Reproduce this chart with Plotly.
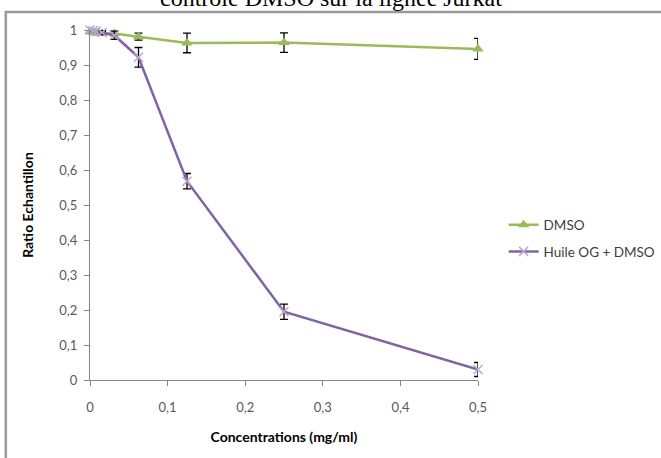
import plotly.graph_objects as go

concentrations = [0, 0.0039, 0.0078, 0.0156, 0.03125, 0.0625, 0.125, 0.25, 0.5]
dmso = [0.995, 0.993, 0.992, 0.991, 0.99, 0.981, 0.963, 0.964, 0.946]
dmso_err = [0.005, 0.005, 0.005, 0.005, 0.006, 0.01, 0.028, 0.028, 0.03]
huile = [1.0, 0.998, 0.996, 0.993, 0.985, 0.922, 0.568, 0.195, 0.03]
huile_err = [0.005, 0.005, 0.005, 0.006, 0.012, 0.028, 0.022, 0.022, 0.02]

title_text = "contrôle DMSO sur la lignée Jurkat"
x_title = "Concentrations (mg/ml)"
y_title = "Ratio Echantillon"

fig = go.Figure()
fig.add_trace(go.Scatter(
    x=concentrations, y=dmso, name="DMSO", mode="lines+markers",
    legendgroup="a", cliponaxis=False,
    line=dict(color="#9BBB59", width=2.5),
    marker=dict(symbol="triangle-up", size=10, color="#9BBB59"),
    error_y=dict(type="data", array=dmso_err, color="#000000", thickness=1.3, width=4),
))
fig.add_trace(go.Scatter(
    x=concentrations, y=huile, name="Huile OG + DMSO", mode="lines+markers",
    legendgroup="b", cliponaxis=False,
    line=dict(color="#8064A2", width=2.5),
    marker=dict(symbol="x-thin", size=9, color="#B7A8CC", line=dict(color="#B7A8CC", width=1.5)),
    error_y=dict(type="data", array=huile_err, color="#000000", thickness=1.3, width=4),
))

fig.update_layout(
    width=661, height=458,
    margin=dict(l=90, r=183, t=30, b=78, autoexpand=False),
    paper_bgcolor="white", plot_bgcolor="white",
    separators=", ",
    showlegend=True,
    legend=dict(x=1.066, y=0.487, xanchor="left", yanchor="top",
                font=dict(family="Lato", size=13.5, color="#404040"),
                itemwidth=30, tracegroupgap=6, bgcolor="rgba(0,0,0,0)"),
    font=dict(family="Lato", size=12, color="#595959"),
)
fig.update_xaxes(
    range=[0, 0.5], dtick=0.1, tick0=0, showgrid=False, zeroline=False,
    showline=True, linecolor="#868686", linewidth=1.2,
    ticks="outside", ticklen=5, tickcolor="#868686", ticklabelstandoff=10,
    tickfont=dict(family="Lato", size=13, color="#595959"),
    title=dict(text="<b>" + x_title + "</b>", font=dict(family="Lato", size=14, color="#000000"), standoff=18),
)
fig.update_yaxes(
    range=[0, 1], dtick=0.1, tick0=0, showgrid=False, zeroline=False,
    showline=True, linecolor="#868686", linewidth=1.2,
    ticks="outside", ticklen=5, tickcolor="#868686", ticklabelstandoff=4,
    tickfont=dict(family="Lato", size=13, color="#595959"),
    title=dict(text="<b>" + y_title + "</b>", font=dict(family="Lato", size=14, color="#000000"), standoff=22),
)

# outer frame
fig.add_shape(type="rect", xref="paper", yref="paper",
              x0=-0.217, x1=1.6, y0=-0.3, y1=1.0514,
              line=dict(color="#999999", width=2.5), fillcolor="rgba(0,0,0,0)")

fig.add_annotation(text=title_text, xref="paper", yref="paper",
                   x=0.62, y=1.048, xanchor="center", yanchor="bottom",
                   showarrow=False,
                   font=dict(family="Liberation Serif", size=24, color="#000000"))

fig.write_html("out.html")
